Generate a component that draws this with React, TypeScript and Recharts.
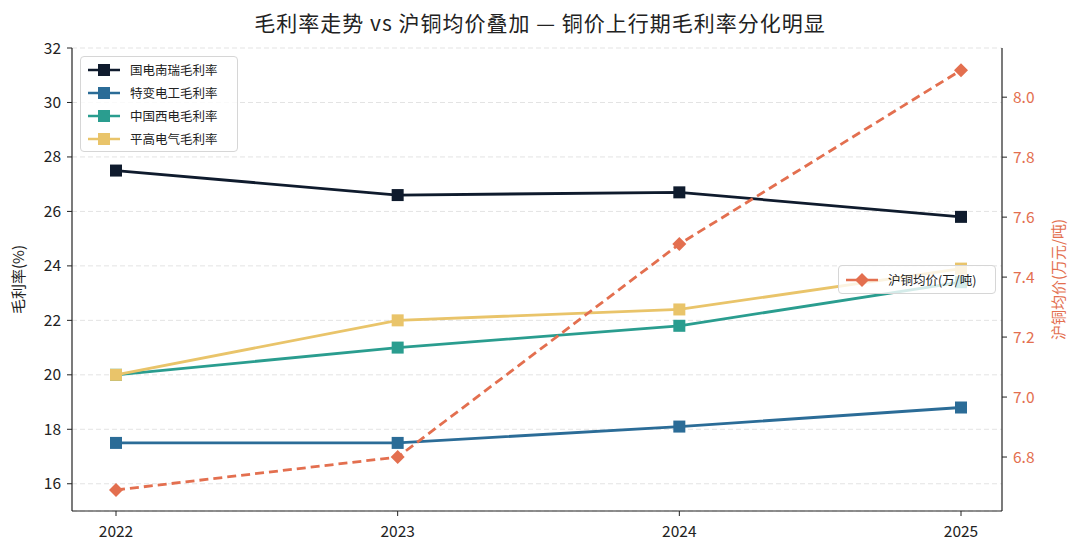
import { LineChart, Line, XAxis, YAxis, CartesianGrid } from 'recharts'

const years = ['2022', '2023', '2024', '2025']
const nari = [27.5, 26.6, 26.7, 25.8]
const tbea = [17.5, 17.5, 18.1, 18.8]
const xd = [20.0, 21.0, 21.8, 23.4]
const pinggao = [20.0, 22.0, 22.4, 23.9]
const copper = [6.69, 6.8, 7.51, 8.09]

const marginTicks = [16, 18, 20, 22, 24, 26, 28, 30, 32]
const copperTicks = [6.8, 7.0, 7.2, 7.4, 7.6, 7.8, 8.0]

const SERIES = [
  { key: 'nari', name: '国电南瑞毛利率', color: '#0f1b2d' },
  { key: 'tbea', name: '特变电工毛利率', color: '#2b6c97' },
  { key: 'xd', name: '中国西电毛利率', color: '#2a9d8f' },
  { key: 'pinggao', name: '平高电气毛利率', color: '#e9c46a' },
]
const COPPER = { key: 'copper', name: '沪铜均价(万/吨)', color: '#e36f4f' }

const FONT = '"Noto Sans CJK SC", "Noto Sans", sans-serif'

const data = years.map((year, i) => ({
  year,
  nari: nari[i],
  tbea: tbea[i],
  xd: xd[i],
  pinggao: pinggao[i],
  copper: copper[i],
}))

const SquareDot = (props: any) => {
  const { cx, cy, stroke, index } = props
  if (cx == null || cy == null) return null
  return <rect key={index} x={cx - 6} y={cy - 6} width={12} height={12} fill={stroke} />
}

const DiamondDot = (props: any) => {
  const { cx, cy, stroke, index } = props
  if (cx == null || cy == null) return null
  const r = 7
  return (
    <path
      key={index}
      d={`M${cx},${cy - r}L${cx + r},${cy}L${cx},${cy + r}L${cx - r},${cy}Z`}
      fill={stroke}
    />
  )
}

function LegendRow({ color, name, diamond }: { color: string; name: string; diamond?: boolean }) {
  return (
    <div style={{ display: 'flex', alignItems: 'center', height: 23 }}>
      <svg width={34} height={14} style={{ marginRight: 9 }}>
        <line x1={1} y1={7} x2={33} y2={7} stroke={color} strokeWidth={2.5} />
        {diamond ? (
          <path d="M17,0L24,7L17,14L10,7Z" fill={color} />
        ) : (
          <rect x={11} y={1} width={12} height={12} fill={color} />
        )}
      </svg>
      <span>{name}</span>
    </div>
  )
}

const box = {
  position: 'absolute' as const,
  background: 'rgba(255,255,255,0.8)',
  border: '1px solid #d6d6d6',
  borderRadius: 4,
  fontSize: 12.5,
  color: '#222',
  fontFamily: FONT,
  boxSizing: 'border-box' as const,
}

export default function App() {
  return (
    <div style={{ position: 'fixed', left: 0, top: 0, width: 1080, height: 556, background: '#fff', fontFamily: FONT }}>
      <div
        style={{
          position: 'absolute',
          top: 7,
          left: 0,
          width: 1080,
          textAlign: 'center',
          fontSize: 21,
          letterSpacing: 1,
          color: '#222',
          lineHeight: '30px',
        }}
      >
        毛利率走势 vs 沪铜均价叠加 — 铜价上行期毛利率分化明显
      </div>
      <LineChart width={1080} height={556} data={data} margin={{ top: 48, right: 0, bottom: 0, left: 0 }}>
        <CartesianGrid yAxisId="left" vertical={false} stroke="#e3e3e3" strokeDasharray="5 3" />
        <XAxis
          dataKey="year"
          padding={{ left: 44, right: 41 }}
          height={45}
          tickSize={5}
          tickMargin={6}
          tick={{ fontSize: 15.5, fill: '#222', dy: 4 }}
          tickLine={{ stroke: '#222' }}
          axisLine={{ stroke: '#222', strokeWidth: 1.2 }}
        />
        <XAxis
          xAxisId="top"
          dataKey="year"
          orientation="top"
          height={0}
          tick={false}
          tickLine={false}
          padding={{ left: 44, right: 41 }}
          axisLine={{ stroke: '#222', strokeWidth: 1.2 }}
        />
        <YAxis
          yAxisId="left"
          width={72}
          domain={[15, 32]}
          ticks={marginTicks}
          interval={0}
          tickSize={5}
          tickMargin={6}
          tick={{ fontSize: 15.5, fill: '#222' }}
          tickLine={{ stroke: '#222' }}
          axisLine={{ stroke: '#222', strokeWidth: 1.2 }}
          label={{ value: '毛利率(%)', angle: -90, position: 'insideLeft', offset: 19, style: { fontSize: 15, fill: '#222', textAnchor: 'middle' } }}
        />
        <YAxis
          yAxisId="right"
          orientation="right"
          width={78}
          domain={[6.62, 8.164]}
          ticks={copperTicks}
          interval={0}
          tickSize={5}
          tickMargin={6}
          tickFormatter={(v: number) => v.toFixed(1)}
          tick={{ fontSize: 15.5, fill: COPPER.color }}
          tickLine={{ stroke: '#222' }}
          axisLine={{ stroke: '#222', strokeWidth: 1.2 }}
          label={{ value: '沪铜均价(万元/吨)', angle: -90, position: 'insideRight', offset: 21, style: { fontSize: 15, fill: COPPER.color, textAnchor: 'middle' } }}
        />
        {SERIES.map((s) => (
          <Line
            key={s.key}
            yAxisId="left"
            dataKey={s.key}
            name={s.name}
            stroke={s.color}
            strokeWidth={2.8}
            dot={<SquareDot />}
            activeDot={false}
            isAnimationActive={false}
          />
        ))}
        <Line
          yAxisId="right"
          dataKey={COPPER.key}
          name={COPPER.name}
          stroke={COPPER.color}
          strokeWidth={2.8}
          strokeDasharray="9 5"
          dot={<DiamondDot />}
          activeDot={false}
          isAnimationActive={false}
        />
      </LineChart>
      <div style={{ ...box, left: 80, top: 56, width: 158, padding: '1px 8px 1px 6px' }}>
        {SERIES.map((s) => (
          <LegendRow key={s.key} color={s.color} name={s.name} />
        ))}
      </div>
      <div style={{ ...box, left: 838, top: 265, width: 158, padding: '2px 8px 2px 6px' }}>
        <LegendRow color={COPPER.color} name={COPPER.name} diamond />
      </div>
    </div>
  )
}
